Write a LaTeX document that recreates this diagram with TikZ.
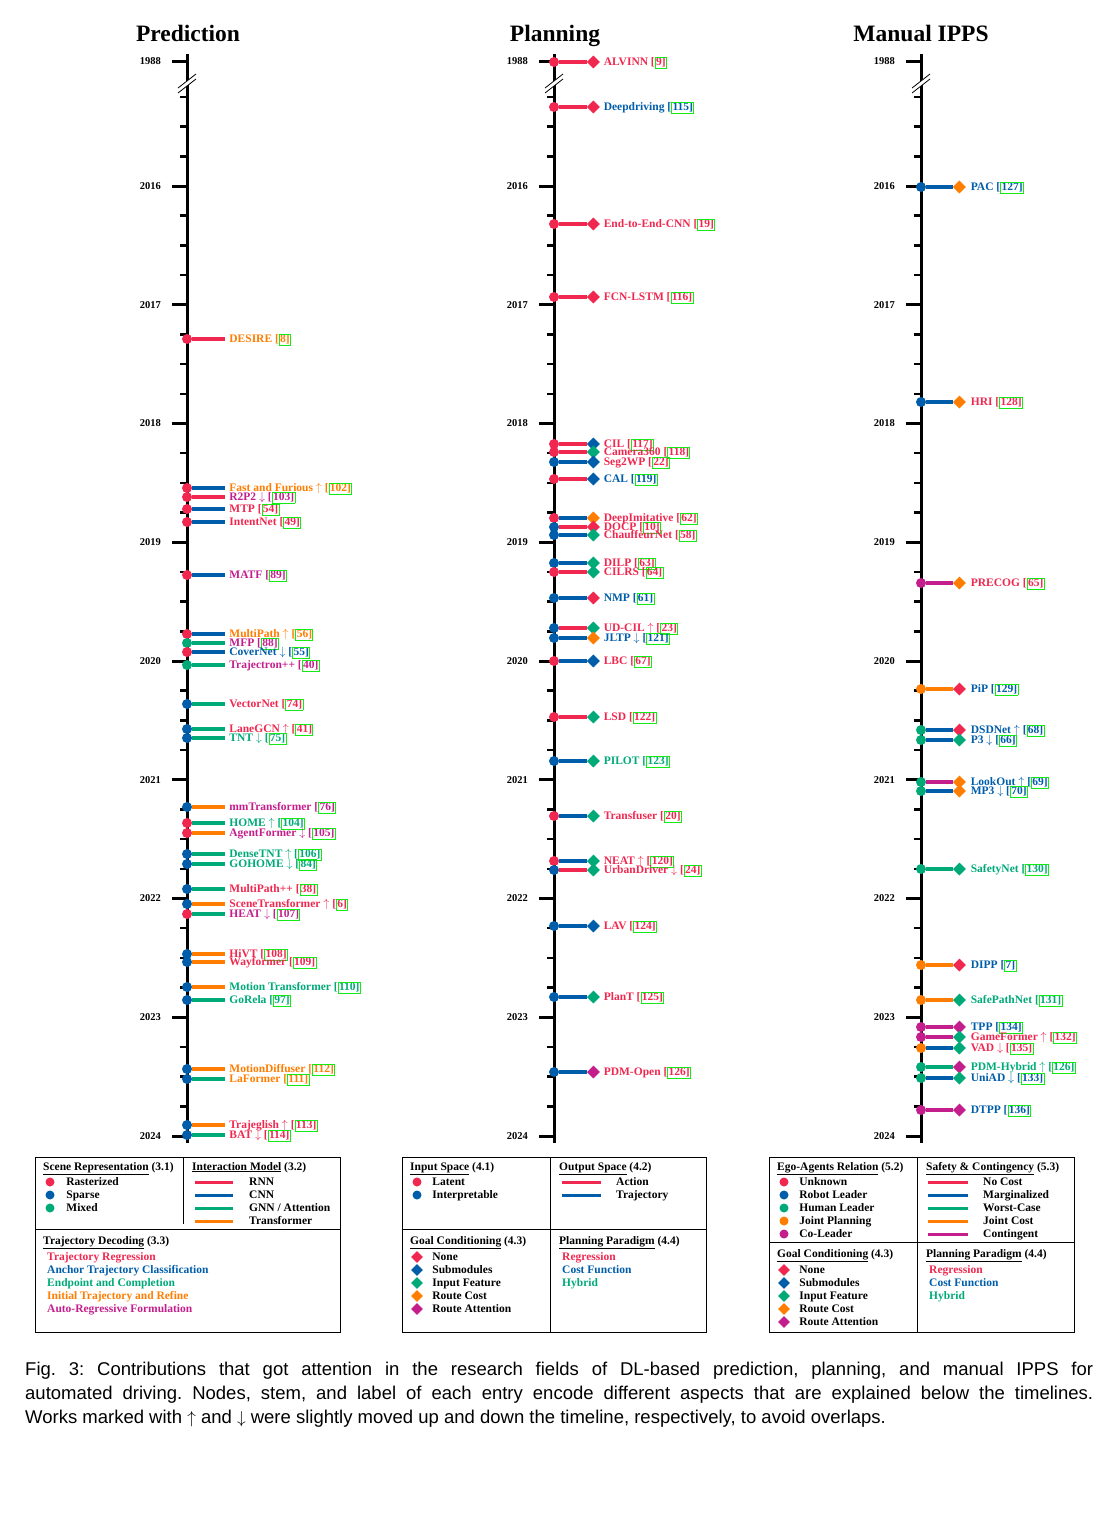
\documentclass[tikz,border=0pt]{standalone}
\usepackage{fontspec}
\setmainfont{Liberation Serif}
\newfontfamily\capfont{Liberation Sans}
\usepackage{xcolor}
\usepackage{tikz}
\usetikzlibrary{shapes.geometric,positioning,calc}

\definecolor{cR}{RGB}{240,40,80}
\definecolor{cB}{RGB}{0,93,170}
\definecolor{cG}{RGB}{0,170,120}
\definecolor{cO}{RGB}{255,125,0}
\definecolor{cM}{RGB}{195,30,140}
\definecolor{refgreen}{RGB}{20,235,20}

\pgfdeclarelayer{stems}
\pgfsetlayers{stems,main}

% citation number in a green link box
\newcommand\cit[1]{[\begingroup\colorlet{txtc}{.}\color{refgreen}%
  \fboxsep=0.4pt\fboxrule=0.9pt\fbox{\color{txtc}#1]}\endgroup}

\tikzset{
  axisline/.style ={line width=3pt, draw=black},
  majtick/.style  ={line width=3pt},
  mintick/.style  ={line width=2.4pt},
  breakline/.style={line width=0.8pt},
  yearlbl/.style  ={font=\fontsize{10.5}{12}\selectfont\bfseries, anchor=east, inner sep=0pt},
  coltitle/.style ={font=\fontsize{23.5}{27}\selectfont\bfseries, inner sep=0pt,
                    text height=16pt, text depth=0pt},
  evdot/.style    ={circle, minimum size=10pt, inner sep=0pt},
  goal/.style     ={diamond, aspect=1, minimum size=13pt, inner sep=0pt},
  stem/.style     ={line width=3.3pt},
  evlbl/.style    ={font=\fontsize{11.5}{12}\selectfont\bfseries, anchor=west,
                    inner sep=0pt, text height=7.6pt, text depth=0pt},
  lgframe/.style  ={line width=0.8pt},
  lghead/.style   ={font=\fontsize{11.5}{12}\selectfont\bfseries, anchor=base west, inner sep=0pt},
  lgtext/.style   ={evlbl},
  lgdot/.style    ={circle, minimum size=9pt, inner sep=0pt},
  lggoal/.style   ={diamond, aspect=1, minimum size=12pt, inner sep=0pt},
  lgline/.style   ={line width=3pt},
  captxt/.style   ={anchor=north west, inner sep=0pt, text width=1068pt, align=justify,
                    font=\capfont\fontsize{18.5}{24}\selectfont\frenchspacing}
}

% stem, ticks and break of one timeline
\newcommand\timeaxis[2]{%
  \draw[axisline] (#1,54) -- (#1,1143);
  \draw[majtick] (#1-15,61) -- (#1,61);
  \node[yearlbl] (#2y1988) at (#1-26,61) {1988};
  \foreach \yr [count=\k from 0] in {2016,...,2024}{
    \draw[majtick] (#1-15,186+118.75*\k) -- (#1,186+118.75*\k);
    \node[yearlbl] (#2y\yr) at (#1-26,186+118.75*\k) {\yr};
  }
  \foreach \q in {1,...,35}{
    \pgfmathtruncatemacro\qm{mod(\q,4)}
    \ifnum\qm>0 \draw[mintick] (#1-7,67.25+29.6875*\q) -- (#1,67.25+29.6875*\q);\fi
  }
  \fill[white] (#1-9,88) -- (#1+9,74) -- (#1+9,79) -- (#1-9,93) -- cycle;
  \draw[breakline] (#1-9,88) -- (#1+9,74) (#1-9,93) -- (#1+9,79);
}

\begin{document}
\begin{tikzpicture}[x=1pt,y=-1pt]
  \useasboundingbox (0,0) rectangle (1100,1516);

  \node[coltitle] (tpred) at (188,33) {Prediction};
  \node[coltitle] (tplan) at (555,33) {Planning};
  \node[coltitle] (tman)  at (921,33) {Manual IPPS};

  \timeaxis{187}{p}
  \timeaxis{554}{n}
  \timeaxis{921}{m}

  % prediction: y / scene / interaction / decoding / label
  \foreach \y/\dc/\sc/\lc/\txt [count=\i] in {
    339/cR/cR/cO/{DESIRE \cit{8}},
    488/cR/cB/cO/{Fast and Furious $\uparrow$ \cit{102}},
    497/cR/cR/cM/{R2P2 $\downarrow$ \cit{103}},
    509/cR/cB/cR/{MTP \cit{54}},
    522/cR/cB/cR/{IntentNet \cit{49}},
    575/cR/cB/cM/{MATF \cit{89}},
    634/cR/cB/cO/{MultiPath $\uparrow$ \cit{56}},
    643/cG/cG/cM/{MFP \cit{88}},
    652/cR/cB/cB/{CoverNet $\downarrow$ \cit{55}},
    665/cG/cG/cM/{Trajectron++ \cit{40}},
    704/cB/cG/cR/{VectorNet \cit{74}},
    729/cB/cG/cR/{LaneGCN $\uparrow$ \cit{41}},
    738/cB/cG/cG/{TNT $\downarrow$ \cit{75}},
    807/cB/cO/cM/{mmTransformer \cit{76}},
    823/cR/cG/cG/{HOME $\uparrow$ \cit{104}},
    833/cR/cO/cM/{AgentFormer $\downarrow$ \cit{105}},
    854/cB/cG/cG/{DenseTNT $\uparrow$ \cit{106}},
    864/cB/cG/cG/{GOHOME $\downarrow$ \cit{84}},
    889/cB/cG/cR/{MultiPath++ \cit{38}},
    904/cB/cO/cR/{SceneTransformer $\uparrow$ \cit{6}},
    914/cR/cG/cM/{HEAT $\downarrow$ \cit{107}},
    954/cB/cO/cR/{HiVT \cit{108}},
    962/cB/cO/cR/{Wayformer \cit{109}},
    987/cB/cO/cG/{Motion Transformer \cit{110}},
    1000/cB/cG/cG/{GoRela \cit{97}},
    1069/cB/cO/cO/{MotionDiffuser \cit{112}},
    1079/cB/cG/cO/{LaFormer \cit{111}},
    1125/cB/cO/cR/{Trajeglish $\uparrow$ \cit{113}},
    1135/cB/cG/cR/{BAT $\downarrow$ \cit{114}}}{
    \node[evdot, fill=\dc] (pd\i) at (187,\y) {};
    \node[evlbl, text=\lc, right=37pt of pd\i] (pl\i) {\txt};
    \begin{pgfonlayer}{stems}
      \draw[stem, draw=\sc] (pd\i) -- ([xshift=-4pt]pl\i.west);
    \end{pgfonlayer}
  }

  % planning: y / input / output / goal / paradigm / label
  \foreach \y/\dc/\sc/\gc/\lc/\txt [count=\i] in {
    62/cR/cR/cR/cR/{ALVINN \cit{9}},
    107/cR/cR/cR/cB/{Deepdriving \cit{115}},
    224/cR/cR/cR/cR/{End-to-End-CNN \cit{19}},
    297/cR/cR/cR/cR/{FCN-LSTM \cit{116}},
    444/cR/cR/cB/cR/{CIL \cit{117}},
    452/cR/cR/cG/cR/{Camera360 \cit{118}},
    462/cB/cB/cB/cR/{Seg2WP \cit{22}},
    479/cR/cR/cB/cB/{CAL \cit{119}},
    518/cR/cB/cO/cR/{DeepImitative \cit{62}},
    527/cB/cR/cR/cR/{DOCP \cit{10}},
    535/cB/cB/cG/cR/{ChauffeurNet \cit{58}},
    563/cB/cB/cG/cR/{DILP \cit{63}},
    572/cR/cR/cG/cR/{CILRS \cit{64}},
    598/cB/cB/cR/cB/{NMP \cit{61}},
    628/cB/cR/cG/cR/{UD-CIL $\uparrow$ \cit{23}},
    638/cB/cB/cO/cB/{JLTP $\downarrow$ \cit{121}},
    661/cR/cB/cB/cR/{LBC \cit{67}},
    717/cR/cR/cG/cR/{LSD \cit{122}},
    761/cB/cB/cG/cG/{PILOT \cit{123}},
    816/cR/cB/cG/cR/{Transfuser \cit{20}},
    861/cR/cB/cG/cR/{NEAT $\uparrow$ \cit{120}},
    870/cB/cR/cG/cR/{UrbanDriver $\downarrow$ \cit{24}},
    926/cB/cB/cB/cR/{LAV \cit{124}},
    997/cB/cB/cG/cR/{PlanT \cit{125}},
    1072/cB/cB/cM/cR/{PDM-Open \cit{126}}}{
    \node[evdot, fill=\dc] (nd\i) at (554,\y) {};
    \node[goal, fill=\gc, right=27.5pt of nd\i] (ng\i) {};
    \node[evlbl, text=\lc, right=3.5pt of ng\i] (nl\i) {\txt};
    \begin{pgfonlayer}{stems}
      \draw[stem, draw=\sc] (nd\i) -- (ng\i);
    \end{pgfonlayer}
  }

  % manual IPPS: y / relation / contingency / goal / paradigm / label
  \foreach \y/\dc/\sc/\gc/\lc/\txt [count=\i] in {
    187/cB/cB/cO/cB/{PAC \cit{127}},
    402/cB/cB/cO/cR/{HRI \cit{128}},
    583/cM/cM/cO/cR/{PRECOG \cit{65}},
    689/cO/cO/cR/cB/{PiP \cit{129}},
    730/cG/cB/cR/cB/{DSDNet $\uparrow$ \cit{68}},
    740/cG/cB/cG/cB/{P3 $\downarrow$ \cit{66}},
    782/cG/cM/cO/cB/{LookOut $\uparrow$ \cit{69}},
    791/cG/cB/cO/cB/{MP3 $\downarrow$ \cit{70}},
    869/cG/cG/cG/cG/{SafetyNet \cit{130}},
    965/cO/cO/cR/cB/{DIPP \cit{7}},
    1000/cO/cO/cG/cG/{SafePathNet \cit{131}},
    1027/cM/cM/cM/cB/{TPP \cit{134}},
    1037/cM/cM/cG/cR/{GameFormer $\uparrow$ \cit{132}},
    1048/cO/cB/cG/cR/{VAD $\downarrow$ \cit{135}},
    1067/cG/cG/cM/cG/{PDM-Hybrid $\uparrow$ \cit{126}},
    1078/cG/cB/cG/cB/{UniAD $\downarrow$ \cit{133}},
    1110/cM/cM/cM/cB/{DTPP \cit{136}}}{
    \node[evdot, fill=\dc] (md\i) at (921,\y) {};
    \node[goal, fill=\gc, right=26.5pt of md\i] (mg\i) {};
    \node[evlbl, text=\lc, right=4.5pt of mg\i] (ml\i) {\txt};
    \begin{pgfonlayer}{stems}
      \draw[stem, draw=\sc] (md\i) -- (mg\i);
    \end{pgfonlayer}
  }

  % ---- legend: prediction
  \draw[lgframe] (35,1157) rectangle (340,1332);
  \draw[lgframe] (35,1229) -- (340,1229);
  \draw[lgframe] (183,1157) -- (183,1224);
  \node[lghead] (lp1) at (43,1170)  {\underline{Scene Representation} (3.1)};
  \node[lghead] (lp2) at (192,1170) {\underline{Interaction Model} (3.2)};
  \node[lghead] (lp3) at (43,1244)  {\underline{Trajectory Decoding} (3.3)};
  \foreach \c/\t [count=\i] in {cR/Rasterized, cB/Sparse, cG/Mixed}{
    \node[lgdot, fill=\c] (lpd\i) at (50,1169+13*\i) {};
    \node[lgtext, right=11.5pt of lpd\i] (lpdt\i) {\t};
  }
  \foreach \c/\t [count=\i] in {cR/RNN, cB/CNN, cG/{GNN / Attention}, cO/Transformer}{
    \coordinate (lpa\i) at (195,1169+13*\i);
    \coordinate (lpb\i) at (233,1169+13*\i);
    \draw[lgline, draw=\c] (lpa\i) -- (lpb\i);
    \node[lgtext, right=16pt of lpb\i] (lplt\i) {\t};
  }
  \foreach \c/\t [count=\i] in {cR/Trajectory Regression, cB/Anchor Trajectory Classification,
      cG/Endpoint and Completion, cO/Initial Trajectory and Refine, cM/Auto-Regressive Formulation}{
    \node[lgtext, text=\c] (lpc\i) at (47,1244+13*\i) {\t};
  }

  % ---- legend: planning
  \draw[lgframe] (402,1157) rectangle (706,1332);
  \draw[lgframe] (402,1229) -- (706,1229);
  \draw[lgframe] (550,1157) -- (550,1332);
  \node[lghead] (ln1) at (410,1170) {\underline{Input Space} (4.1)};
  \node[lghead] (ln2) at (559,1170) {\underline{Output Space} (4.2)};
  \node[lghead] (ln3) at (410,1244) {\underline{Goal Conditioning} (4.3)};
  \node[lghead] (ln4) at (559,1244) {\underline{Planning Paradigm} (4.4)};
  \foreach \c/\t [count=\i] in {cR/Latent, cB/Interpretable}{
    \node[lgdot, fill=\c] (lnd\i) at (417,1169+13*\i) {};
    \node[lgtext, right=10.5pt of lnd\i] (lndt\i) {\t};
  }
  \foreach \c/\t [count=\i] in {cR/Action, cB/Trajectory}{
    \coordinate (lna\i) at (562,1169+13*\i);
    \coordinate (lnb\i) at (601,1169+13*\i);
    \draw[lgline, draw=\c] (lna\i) -- (lnb\i);
    \node[lgtext, right=15pt of lnb\i] (lnlt\i) {\t};
  }
  \foreach \c/\t [count=\i] in {cR/None, cB/Submodules, cG/Input Feature, cO/Route Cost, cM/Route Attention}{
    \node[lggoal, fill=\c] (lng\i) at (417,1244+13*\i) {};
    \node[lgtext, right=9pt of lng\i] (lngt\i) {\t};
  }
  \foreach \c/\t [count=\i] in {cR/Regression, cB/Cost Function, cG/Hybrid}{
    \node[lgtext, text=\c] (lnc\i) at (562,1244+13*\i) {\t};
  }

  % ---- legend: manual IPPS
  \draw[lgframe] (769,1157) rectangle (1074,1332);
  \draw[lgframe] (769,1242) -- (1074,1242);
  \draw[lgframe] (917,1157) -- (917,1332);
  \node[lghead] (lm1) at (777,1170) {\underline{Ego-Agents Relation} (5.2)};
  \node[lghead] (lm2) at (926,1170) {\underline{Safety \& Contingency} (5.3)};
  \node[lghead] (lm3) at (777,1257) {\underline{Goal Conditioning} (4.3)};
  \node[lghead] (lm4) at (926,1257) {\underline{Planning Paradigm} (4.4)};
  \foreach \c/\t [count=\i] in {cR/Unknown, cB/Robot Leader, cG/Human Leader, cO/Joint Planning, cM/Co-Leader}{
    \node[lgdot, fill=\c] (lmd\i) at (784,1169+13*\i) {};
    \node[lgtext, right=10.5pt of lmd\i] (lmdt\i) {\t};
  }
  \foreach \c/\t [count=\i] in {cR/No Cost, cB/Marginalized, cG/Worst-Case, cO/Joint Cost, cM/Contingent}{
    \coordinate (lma\i) at (928,1169+13*\i);
    \coordinate (lmb\i) at (968,1169+13*\i);
    \draw[lgline, draw=\c] (lma\i) -- (lmb\i);
    \node[lgtext, right=15pt of lmb\i] (lmlt\i) {\t};
  }
  \foreach \c/\t [count=\i] in {cR/None, cB/Submodules, cG/Input Feature, cO/Route Cost, cM/Route Attention}{
    \node[lggoal, fill=\c] (lmg\i) at (784,1257+13*\i) {};
    \node[lgtext, right=9pt of lmg\i] (lmgt\i) {\t};
  }
  \foreach \c/\t [count=\i] in {cR/Regression, cB/Cost Function, cG/Hybrid}{
    \node[lgtext, text=\c] (lmc\i) at (929,1257+13*\i) {\t};
  }

  \node[captxt] (caption) at (25,1362) {Fig.~3: Contributions that got attention in the research fields of DL-based prediction, planning, and manual IPPS for\linebreak automated driving. Nodes, stem, and label of each entry encode different aspects that are explained below the timelines.\linebreak Works marked with $\uparrow$ and $\downarrow$ were slightly moved up and down the timeline, respectively, to avoid overlaps.};
\end{tikzpicture}
\end{document}
